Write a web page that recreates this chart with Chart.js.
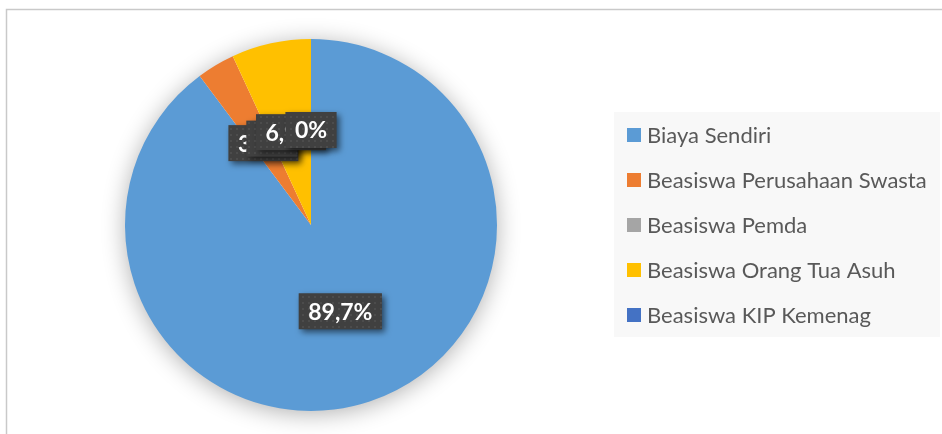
<!DOCTYPE html>
<html>
<head>
<meta charset="utf-8">
<script src="https://cdn.jsdelivr.net/npm/chart.js@4"></script>
<style>
  body { margin: 0; background: #fff; }
  canvas { display: block; }
</style>
</head>
<body>
<canvas id="myChart" width="942" height="434"></canvas>
<script>
// data
const categories = ['Biaya Sendiri', 'Beasiswa Perusahaan Swasta', 'Beasiswa Pemda', 'Beasiswa Orang Tua Asuh', 'Beasiswa KIP Kemenag'];
const percents = [89.7, 3.3, 0.0, 6.9, 0.0];
const sliceColors = ['#5B9BD5', '#ED7D31', '#A5A5A5', '#FFC000', '#4472C4'];

function fmt(v) {
    if (v === 0) return '0%';
    return v.toFixed(1).replace('.', ',') + '%';
}

/* frame + pie shadow ---------------------------------------------------------- */
const framePlugin = {
    id: 'frame',
    beforeDraw(chart) {
        const ctx = chart.ctx;
        ctx.save();
        ctx.fillStyle = '#fff';
        ctx.fillRect(0, 0, chart.width, chart.height);
        ctx.strokeStyle = '#c9c9c9';
        ctx.lineWidth = 1.5;
        ctx.beginPath();
        ctx.moveTo(6.5, chart.height);
        ctx.lineTo(6.5, 9.5);
        ctx.lineTo(chart.width, 9.5);
        ctx.stroke();
        ctx.restore();
    },
    beforeDatasetsDraw(chart) {
        const arc = chart.getDatasetMeta(0).data[0];
        const ctx = chart.ctx;
        ctx.save();
        ctx.shadowColor = 'rgba(0,0,0,0.33)';
        ctx.shadowBlur = 24;
        ctx.shadowOffsetY = 3;
        ctx.fillStyle = '#fff';
        ctx.beginPath();
        ctx.arc(arc.x, arc.y, arc.outerRadius - 1, 0, Math.PI * 2);
        ctx.fill();
        ctx.restore();
    }
};

/* legend drawn from the chart data ------------------------------------------------ */
const legendPlugin = {
    id: 'sideLegend',
    afterDraw(chart) {
        const ctx = chart.ctx;
        ctx.save();
        ctx.fillStyle = '#f8f8f8';
        ctx.fillRect(614, 112, 326, 225);
        ctx.font = '22px Lato';
        ctx.textBaseline = 'middle';
        const labels = chart.data.labels;
        const colors = chart.data.datasets[0].backgroundColor;
        labels.forEach((lb, i) => {
            const y = 135 + i * 45;
            ctx.fillStyle = colors[i];
            ctx.fillRect(627, y - 7, 14, 14);
            ctx.fillStyle = '#595959';
            ctx.fillText(lb, 647, y + 1);
        });
        ctx.restore();
    }
};

/* dark data label boxes ---------------------------------------------------------- */
function dotPattern(ctx) {
    const c = document.createElement('canvas');
    c.width = 6; c.height = 6;
    const p = c.getContext('2d');
    p.fillStyle = '#404040';
    p.fillRect(0, 0, 6, 6);
    p.fillStyle = '#4c4c4c';
    p.fillRect(2, 2, 2, 2);
    return ctx.createPattern(c, 'repeat');
}

const labelPlugin = {
    id: 'boxLabels',
    afterDatasetsDraw(chart) {
        const ctx = chart.ctx;
        const meta = chart.getDatasetMeta(0);
        const vals = chart.data.datasets[0].data;
        const pat = dotPattern(ctx);
        ctx.save();
        ctx.font = 'bold 23px Lato';
        ctx.textAlign = 'center';
        ctx.textBaseline = 'middle';
        meta.data.forEach((arc, i) => {
            const mid = (arc.startAngle + arc.endAngle) / 2;
            const r = arc.outerRadius * 0.5;
            const cx = arc.x + Math.cos(mid) * r;
            const cy = arc.y + Math.sin(mid) * r - 2;
            const txt = fmt(vals[i]);
            const w = ctx.measureText(txt).width + 19;
            const h = 36;
            ctx.save();
            ctx.shadowColor = 'rgba(0,0,0,0.55)';
            ctx.shadowBlur = 6;
            ctx.shadowOffsetX = 3;
            ctx.shadowOffsetY = 3;
            ctx.fillStyle = pat;
            ctx.fillRect(cx - w / 2, cy - h / 2, w, h);
            ctx.restore();
            ctx.fillStyle = '#fff';
            ctx.fillText(txt, cx, cy + 1);
        });
        ctx.restore();
    }
};

const config = {
    type: 'pie',
    data: {
        labels: categories,
        datasets: [{
            data: percents,
            backgroundColor: sliceColors,
            borderWidth: 0
        }]
    },
    options: {
        responsive: false,
        animation: false,
        layout: {
            padding: { left: 125, right: 445, top: 39, bottom: 23 }
        },
        plugins: {
            legend: { display: false },
            tooltip: { enabled: false }
        }
    },
    plugins: [framePlugin, labelPlugin, legendPlugin]
};

let chartDOM = document.getElementById('myChart');
let myChart = new Chart(chartDOM, config);
</script>
</body>
</html>
